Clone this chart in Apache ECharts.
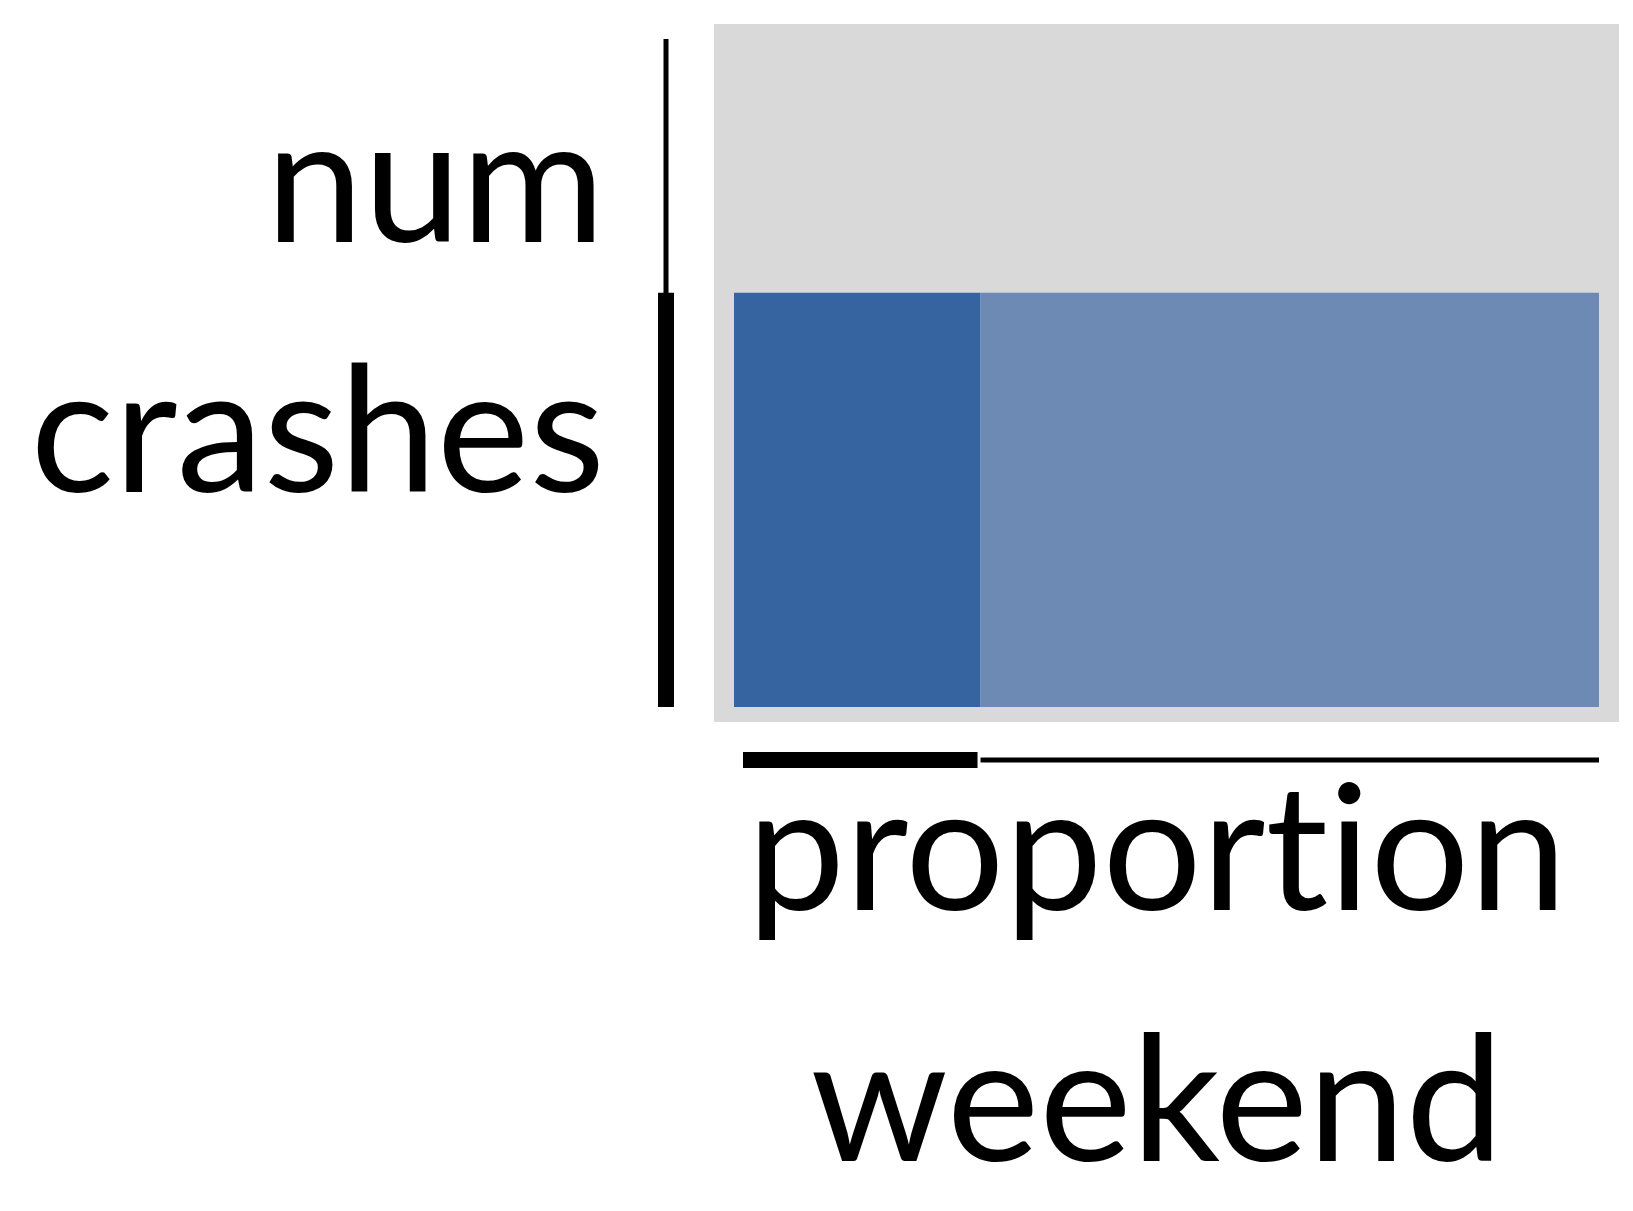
<!DOCTYPE html>
<html>
<head>
<meta charset="utf-8">
<script src="https://cdn.jsdelivr.net/npm/echarts@6/dist/echarts.min.js"></script>
<style>
html,body{margin:0;padding:0;background:#fff;}
#chart{width:1633px;height:1211px;}
#chart svg text, #chart svg tspan{font-variant-ligatures:none !important;font-feature-settings:"liga" 0,"clig" 0,"dlig" 0 !important;}
</style>
</head>
<body>
<div id="chart"></div>
<script>
// ---- data ----
const categories = ['weekend', 'weekday'];
const proportions = [0.285, 0.715];      // share of crashes (x extent)
const numCrashes = 0.62;                 // bar height, relative to axis max
const yMax = 1;
const barColors = ['#3664a1', '#6c8ab4'];
const yTitle = 'num\ncrashes';
const xTitle = 'proportion\nweekend';

// build rect table [x0, x1, height, index]
const rects = [];
let acc = 0;
proportions.forEach((p, i) => { rects.push([acc, acc + p, numCrashes, i]); acc += p; });

const weekendShare = proportions[0];

const chart = echarts.init(document.getElementById('chart'), null, {renderer: 'svg'});
const FONT = '400 175px Lato';

chart.setOption({
  backgroundColor: '#ffffff',
  animation: false,
  grid: [
    {left: 714, top: 24, width: 905, height: 698, show: true, backgroundColor: '#d9d9d9', borderWidth: 0},
    {left: 734, top: 39, width: 865, height: 668, show: false}
  ],
  xAxis: [
    {gridIndex: 0, type: 'value', show: false, min: 0, max: 1},
    {gridIndex: 1, type: 'value', min: 0, max: 1, axisLine: {show: false}, axisTick: {show: false}, axisLabel: {show: false}, splitLine: {show: false}}
  ],
  yAxis: [
    {gridIndex: 0, type: 'value', show: false, min: 0, max: 1},
    {gridIndex: 1, type: 'value', min: 0, max: yMax, axisLine: {show: false}, axisTick: {show: false}, axisLabel: {show: false}, splitLine: {show: false}}
  ],
  series: [
    {
      type: 'custom', name: 'crashes', xAxisIndex: 1, yAxisIndex: 1,
      data: rects,
      renderItem: function (params, api) {
        const p0 = api.coord([api.value(0), 0]);
        const p1 = api.coord([api.value(1), api.value(2)]);
        return {
          type: 'rect',
          shape: {x: p0[0], y: p1[1], width: p1[0] - p0[0], height: p0[1] - p1[1]},
          style: {fill: barColors[api.value(3)]}
        };
      }
    },
    {
      // y range-frame: thin = full axis, thick = data extent
      type: 'custom', name: 'yframe', xAxisIndex: 1, yAxisIndex: 1, clip: false,
      data: [[0, yMax, 5], [0, numCrashes, 16]],
      renderItem: function (params, api) {
        const a = api.coord([0, api.value(0)]);
        const b = api.coord([0, api.value(1)]);
        const x = a[0] - 68;
        return {type: 'line', shape: {x1: x, y1: a[1], x2: x, y2: b[1]},
                style: {stroke: '#000', lineWidth: api.value(2), lineCap: 'butt'}};
      }
    },
    {
      // x range-frame
      type: 'custom', name: 'xframe', xAxisIndex: 1, yAxisIndex: 1, clip: false,
      data: [[weekendShare, 1, 5, 0, 0], [0, weekendShare, 16, 9, -3]],
      renderItem: function (params, api) {
        const a = api.coord([api.value(0), 0]);
        const b = api.coord([api.value(1), 0]);
        const y = a[1] + 53;
        return {type: 'line', shape: {x1: a[0] + api.value(3), y1: y, x2: b[0] + api.value(4), y2: y},
                style: {stroke: '#000', lineWidth: api.value(2), lineCap: 'butt'}};
      }
    }
  ],
  graphic: [
    {type: 'text', x: 605, y: 299,
     style: {text: yTitle, font: FONT, lineHeight: 250, fill: '#000', align: 'right', verticalAlign: 'middle'}},
    {type: 'text', x: 1157, y: 967,
     style: {text: xTitle, font: FONT, lineHeight: 251, fill: '#000', align: 'center', verticalAlign: 'middle'}}
  ]
});
</script>
</body>
</html>
